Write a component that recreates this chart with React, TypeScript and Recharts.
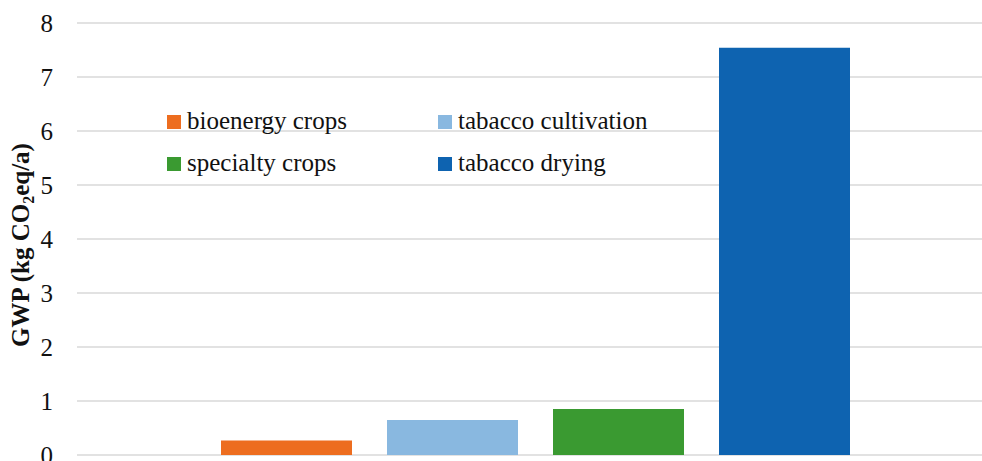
import React from "react";
import { BarChart, Bar, XAxis, YAxis, CartesianGrid, Label } from "recharts";

// Global warming potential per source
const seriesKeys = ["bioenergy", "cultivation", "specialty", "drying"];
const seriesNames = ["bioenergy crops", "tabacco cultivation", "specialty crops", "tabacco drying"];
const seriesValues = [0.27, 0.65, 0.85, 7.54];
const seriesColors = ["#ED6D1F", "#89B8E0", "#3A9A31", "#0E63B0"];
const yTicks = [0, 1, 2, 3, 4, 5, 6, 7, 8];

const FONT = '"Liberation Serif", "Times New Roman", serif';

const row: Record<string, string | number> = { group: "GWP" };
seriesKeys.forEach((k, i) => {
  row[k] = seriesValues[i];
});
const data = [row];

// legend in two columns: left column = items 0 and 2, right column = 1 and 3
function LegendBox() {
  return (
    <div
      style={{
        position: "absolute",
        left: 167,
        top: 106,
        display: "grid",
        gridTemplateColumns: "271px 271px",
        rowGap: 12,
        fontFamily: FONT,
        fontSize: 25,
        color: "#111",
      }}
    >
      {seriesNames.map((name, i) => (
        <div key={name} style={{ display: "flex", alignItems: "center", height: 30 }}>
          <span
            style={{
              display: "inline-block",
              width: 14,
              height: 14,
              background: seriesColors[i],
              marginRight: 6,
              marginTop: 2,
            }}
          />
          <span>{name}</span>
        </div>
      ))}
    </div>
  );
}

function YTitle() {
  return (
    <text
      x={29}
      y={245}
      transform="rotate(-90 29 245)"
      textAnchor="middle"
      fontFamily={FONT}
      fontWeight="bold"
      fontSize={25}
      fill="#111"
    >
      GWP (kg CO
      <tspan dy={5} fontSize={16}>
        2
      </tspan>
      <tspan dy={-5}>eq/a)</tspan>
    </text>
  );
}

export default function App() {
  return (
    <div
      style={{
        position: "absolute",
        left: 0,
        top: 0,
        width: 982,
        height: 461,
        overflow: "hidden",
        background: "#fff",
      }}
    >
      <BarChart
        width={993}
        height={461}
        data={data}
        margin={{ top: 23, right: 0, bottom: 6, left: 0 }}
        barSize={131}
        barGap={35}
      >
        <CartesianGrid vertical={false} stroke="#d9d9d9" strokeWidth={1.3} />
        <XAxis dataKey="group" hide />
        <YAxis
          width={77}
          domain={[0, 8]}
          ticks={yTicks}
          interval={0}
          axisLine={false}
          tickLine={false}
          tickSize={0}
          tickMargin={24}
          tick={{ fontFamily: FONT, fontSize: 25, fill: "#111" }}
        >
          <Label content={<YTitle />} />
        </YAxis>
        {seriesKeys.map((k, i) => (
          <Bar key={k} dataKey={k} name={seriesNames[i]} fill={seriesColors[i]} isAnimationActive={false} />
        ))}
      </BarChart>
      <LegendBox />
    </div>
  );
}
